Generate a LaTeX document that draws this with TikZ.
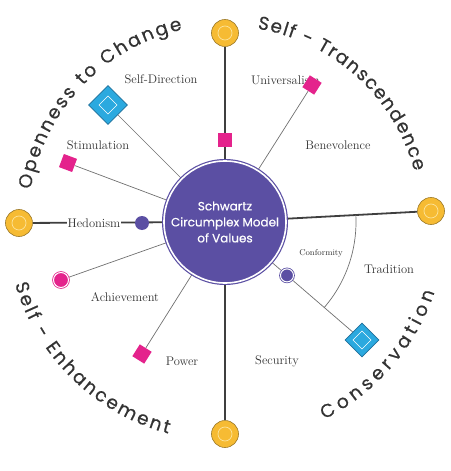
\documentclass[tikz,border=0pt]{standalone}
\usepackage{fontspec}
\newfontfamily\popfont[FakeBold=0.5]{Poppins}
\usetikzlibrary{decorations.text,shapes.geometric,backgrounds}
\definecolor{purp}{HTML}{5B4FA3}
\definecolor{gold}{HTML}{F6BB33}
\definecolor{goldline}{HTML}{9C7A2A}
\definecolor{goldring}{HTML}{FCE39A}
\definecolor{pinkc}{HTML}{E4238C}
\definecolor{bluec}{HTML}{2BA9DF}
\definecolor{blueline}{HTML}{1F6F9A}
\definecolor{ink}{HTML}{333333}
\definecolor{axisc}{HTML}{3F3F3F}
\definecolor{spokec}{HTML}{707070}
\def\curvefmt{\color{ink}\popfont\fontsize{18.5}{19}\selectfont}
\tikzset{
  hub/.style={circle, fill=purp, draw=purp, line width=1.2pt, double=white, double distance=1.6pt,
    minimum size=122pt, inner sep=0pt, text=white, font=\popfont\fontsize{12}{16}\selectfont, align=center},
  sun/.style={circle, fill=gold, draw=goldline, line width=0.6pt, minimum size=27pt, inner sep=0pt,
    path picture={\draw[goldring, line width=0.7pt] (path picture bounding box.center) circle[radius=7pt];}},
  gem/.style={diamond, aspect=1, fill=bluec, draw=blueline, line width=0.6pt, inner sep=0pt, minimum size=#1,
    path picture={\draw[white, line width=0.7pt] (path picture bounding box.center) ++(0,9) -- ++(9,-9) -- ++(-9,-9) -- ++(-9,9) -- cycle;}},
  tile/.style={rectangle, fill=pinkc, minimum size=14pt, inner sep=0pt, rotate=#1},
  bead/.style={circle, fill=purp, minimum size=14pt, inner sep=0pt},
  ringdot/.style={circle, fill=#1, draw=#1, line width=0.8pt, double=white, double distance=1pt, inner sep=0pt},
  lbl/.style={text=ink, font=\fontsize{12.5}{14}\selectfont, inner sep=1pt},
  axisline/.style={draw=axisc, line width=1.8pt},
  spokeline/.style={draw=spokec, line width=0.7pt},
  curved/.style={decorate, decoration={text along path, text align={fit to path}, text={|\curvefmt|#1}}}
}
\begin{document}
\begin{tikzpicture}[x=1pt,y=1pt]
\useasboundingbox (-225,-249) rectangle (225,222);
% hub and end points
\node[hub] (hub) at (0,0) {Schwartz\\Circumplex Model\\of Values};
\node[sun] (top) at (0,189) {};
\node[sun] (left) at (-206,-1) {};
\node[sun] (bottom) at (0,-212) {};
\node[sun] (right) at (206,11) {};
% labels
\node[lbl] (sdl) at (-64,143) {Self-Direction};
\node[lbl] (stiml) at (-127,77) {Stimulation};
\node[lbl, fill=white] (hedl) at (-131,-1) {Hedonism};
\node[lbl, anchor=west] (univl) at (25,142) {Universalism};
\node[lbl] (benl) at (113,77) {Benevolence};
\node[lbl] (achl) at (-100,-75) {Achievement};
\node[lbl] (powl) at (-43,-139) {Power};
\node[lbl] (secl) at (52,-139) {Security};
\node[lbl] (tradl) at (164,-47) {Tradition};
\node[lbl, font=\fontsize{8.5}{10}\selectfont] (confl) at (96,-31) {Conformity};
% markers
\node[tile=0] (topsq) at (0,82) {};
\node[bead] (hedb) at (-83,-1) {};
\node[gem=39pt] (sd) at (-117,117) {};
\node[tile=-20.6] (stim) at (-157,59) {};
\node[ringdot=pinkc, minimum size=15pt] (ach) at (-164,-58) {};
\node[tile=57.8] (pow) at (-83,-132) {};
\node[ringdot=purp, minimum size=13pt] (conf) at (62,-53.4) {};
\node[gem=34pt] (cons) at (137,-118) {};
\node[tile=57.6] (univ) at (87,137) {};
\coordinate (arcA) at (3.06:131);
% connectors
\begin{scope}[on background layer]
\draw[axisline] (top) -- (hub);
\draw[axisline] (left) -- (hub);
\draw[axisline] (bottom) -- (hub);
\draw[axisline] (right) -- (hub);
\draw[spokeline] (sd) -- (hub);
\draw[spokeline] (stim) -- (hub);
\draw[spokeline] (ach) -- (hub);
\draw[spokeline] (pow) -- (hub);
\draw[spokeline] (univ) -- (hub);
\draw[spokeline] (cons) -- (hub);
\draw[spokeline] (arcA) arc[start angle=3.06, end angle=-40.74, radius=131];
\end{scope}
% curved group titles
\path[curved={Openness to Change}] (170.5:197) arc[start angle=170.5, end angle=102.5, radius=197];
\path[curved={Self - Transcendence}] (80.5:196) arc[start angle=80.5, end angle=15, radius=196];
\path[curved={Self - Enhancement}] (196.5:219) arc[start angle=196.5, end angle=255, radius=219];
\path[curved={Conservation}] (296.7:221) arc[start angle=296.7, end angle=341.5, radius=221];
\end{tikzpicture}
\end{document}
